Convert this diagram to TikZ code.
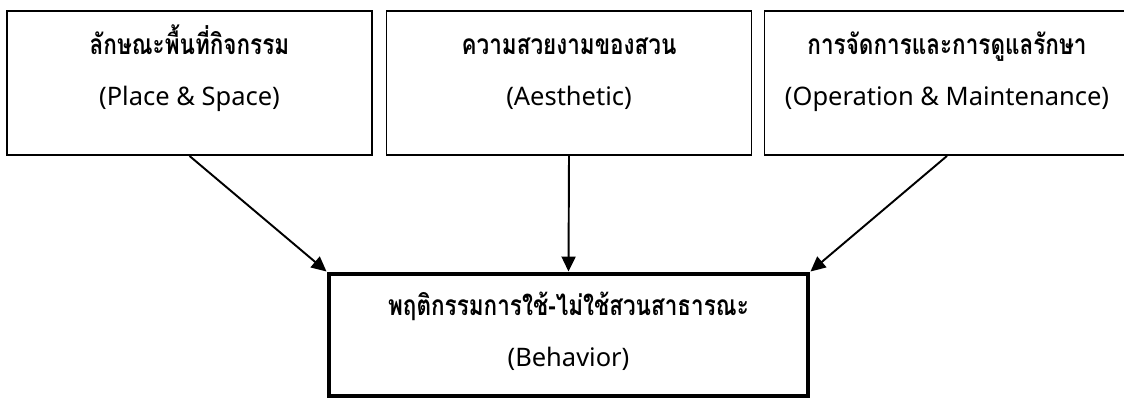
\documentclass[tikz,border=0pt]{standalone}
\usepackage{fontspec}
\setmainfont{Noto Sans}
\newfontfamily\thaifont[Script=Thai, FakeStretch=0.8]{Loma}
\usetikzlibrary{arrows.meta}

\tikzset{
  topbox/.style={draw, line width=1.1pt, minimum width=7.3cm, minimum height=2.88cm, inner sep=0pt},
  mainbox/.style={draw, line width=2.8pt, minimum width=9.58cm, minimum height=2.44cm, inner sep=0pt},
  thaitext/.style={anchor=base, font=\fontsize{16}{18}\selectfont\thaifont\bfseries},
  engtext/.style={anchor=base, font=\fontsize{14.5}{16}\selectfont},
  flow/.style={line width=1.1pt, -{Triangle[length=0.3cm, width=0.28cm]}}
}

\begin{document}
\begin{tikzpicture}
\useasboundingbox (0,0) rectangle (22.48,7.98);

% boxes
\node[topbox] (place) at (3.79,6.32) {};
\node[topbox] (aes) at (11.38,6.32) {};
\node[topbox] (oper) at (18.94,6.32) {};
\node[mainbox] (behav) at (11.37,1.28) {};

% labels
\node[thaitext] (place-th) at ([yshift=-0.88cm]place.north) {ลักษณะพื้นที่กิจกรรม};
\node[engtext] (place-en) at ([yshift=-1.9cm]place.north) {(Place \& Space)};
\node[thaitext] (aes-th) at ([yshift=-0.88cm]aes.north) {ความสวยงามของสวน};
\node[engtext] (aes-en) at ([yshift=-1.9cm]aes.north) {(Aesthetic)};
\node[thaitext] (oper-th) at ([yshift=-0.88cm]oper.north) {การจัดการและการดูแลรักษา};
\node[engtext] (oper-en) at ([yshift=-1.9cm]oper.north) {(Operation \& Maintenance)};
\node[thaitext] (behav-th) at ([yshift=-0.88cm]behav.north) {พฤติกรรมการใช้-ไม่ใช้สวนสาธารณะ};
\node[engtext] (behav-en) at ([yshift=-1.9cm]behav.north) {(Behavior)};

% arrows
\draw[flow] (place.south) -- (behav.north west);
\draw[flow] (aes.south) -- (behav.north);
\draw[flow] (oper.south) -- (behav.north east);

\end{tikzpicture}
\end{document}
